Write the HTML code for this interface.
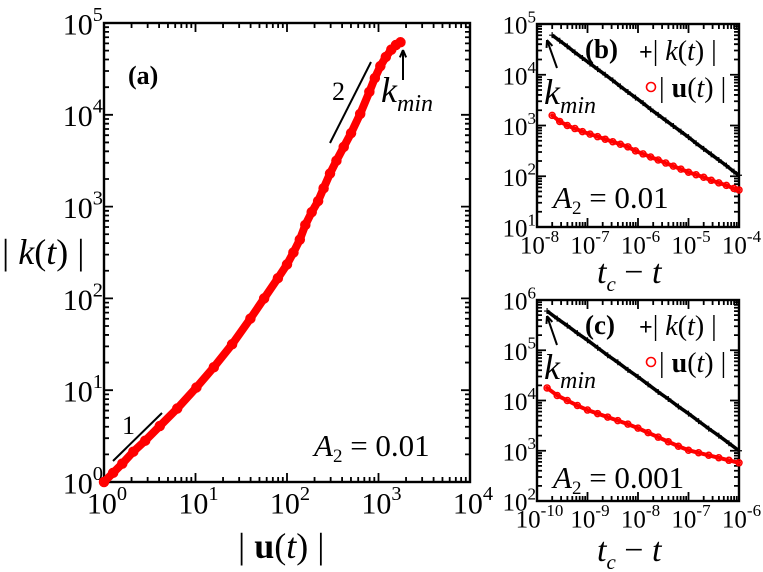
<!DOCTYPE html>
<html><head><meta charset="utf-8"><style>
body{margin:0;background:#fff;}
svg{display:block;}
svg text{font-family:"Liberation Serif","DejaVu Serif",serif;}
</style></head><body>
<svg id="fig" width="763" height="572" viewBox="0 0 763 572" xmlns="http://www.w3.org/2000/svg"></svg>
<script>
// ---- Panel (a) data: |u(t)| vs |k(t)| (log10 values) ----
const aLogU = [0,0.1,0.2,0.32,0.45,0.61,0.8,1.01,1.2,1.4,1.6,1.75,1.9,2.0,2.07,2.14,2.2,2.27,2.34,2.4,2.47,2.54,2.62,2.7,2.8,2.9,2.96,3.02,3.08,3.14,3.19,3.24];
const aLogK = [0,0.1,0.2,0.33,0.45,0.61,0.8,1.03,1.25,1.5,1.78,2.0,2.22,2.37,2.5,2.64,2.8,2.94,3.06,3.2,3.36,3.5,3.65,3.8,4.01,4.25,4.4,4.53,4.63,4.71,4.76,4.79];
const aXTicks = [0,1,2,3,4];
const aYTicks = [0,1,2,3,4,5];
// ---- Panel (b) data ----
const bLogT = [-7.7,-7.55,-7.4,-7.25,-7.1,-6.95,-6.8,-6.65,-6.5,-6.35,-6.2,-6.05,-5.9,-5.75,-5.6,-5.45,-5.3,-5.15,-5.0,-4.85,-4.7,-4.55,-4.4,-4.25,-4.1,-4.0];
const bLogK = [4.78,4.67,4.56,4.44,4.33,4.22,4.11,4.0,3.89,3.77,3.66,3.55,3.44,3.32,3.21,3.1,2.99,2.88,2.77,2.65,2.54,2.43,2.32,2.21,2.09,2.02];
const bLogU = [3.2,3.08,3.0,2.94,2.88,2.83,2.78,2.73,2.68,2.63,2.58,2.5,2.44,2.38,2.32,2.26,2.2,2.14,2.08,2.03,1.98,1.92,1.87,1.82,1.76,1.73];
const bXTicks = [-8,-7,-6,-5,-4];
const bYTicks = [1,2,3,4,5];
// ---- Panel (c) data ----
const cLogT = [-9.8,-9.6,-9.4,-9.2,-9.0,-8.8,-8.6,-8.4,-8.2,-8.0,-7.8,-7.6,-7.4,-7.2,-7.0,-6.8,-6.6,-6.4,-6.2,-6.0];
const cLogK = [5.78,5.63,5.49,5.34,5.2,5.05,4.9,4.76,4.61,4.47,4.32,4.17,4.03,3.88,3.74,3.59,3.44,3.3,3.15,3.0];
const cLogU = [4.25,4.1,4.0,3.9,3.81,3.74,3.67,3.6,3.53,3.45,3.36,3.27,3.18,3.09,3.01,2.96,2.91,2.86,2.81,2.76];
const cXTicks = [-10,-9,-8,-7,-6];
const cYTicks = [2,3,4,5,6];

const NS="http://www.w3.org/2000/svg";
const svg=document.getElementById('fig');
function mk(tag,attrs,parent){const e=document.createElementNS(NS,tag);for(const k in attrs)e.setAttribute(k,attrs[k]);(parent||svg).appendChild(e);return e;}

function panel(name,L,R,T,B,xt,yt,fs){
  const g=mk('g',{});
  
  
  const x0=xt[0],x1=xt[xt.length-1],y0=yt[0],y1=yt[yt.length-1];
  const sx=v=>L+(v-x0)/(x1-x0)*(R-L);
  const sy=v=>B-(v-y0)/(y1-y0)*(B-T);
  const fr=mk('rect',{x:L,y:T,width:R-L,height:B-T,fill:'none',stroke:'#000','stroke-width':2.4},g);
  
  
  let d='';
  for(let i=0;i<xt.length;i++){
    const x=sx(xt[i]);
    d+=`M${x},${B}v-9M${x},${T}v9`;
    if(i<xt.length-1)for(let m=2;m<10;m++){const xm=sx(xt[i]+Math.log10(m));d+=`M${xm},${B}v-5M${xm},${T}v5`;}
  }
  for(let i=0;i<yt.length;i++){
    const y=sy(yt[i]);
    d+=`M${L},${y}h9M${R},${y}h-9`;
    if(i<yt.length-1)for(let m=2;m<10;m++){const ym=sy(yt[i]+Math.log10(m));d+=`M${L},${ym}h5M${R},${ym}h-5`;}
  }
  const tk=mk('path',{d:d,stroke:'#000','stroke-width':1.8,fill:'none'},g);
  
  
  xt.forEach(v=>{
    const t=mk('text',{x:sx(v)+fs*0.1,y:B+fs*1.05,'font-size':fs,'text-anchor':'middle'},g);
    
    
    t.innerHTML=`10<tspan dy="${-fs*0.45}" font-size="${fs*0.68}">${v}</tspan>`;
  });
  yt.forEach(v=>{
    const t=mk('text',{x:L-1,y:sy(v)+fs*0.38,'font-size':fs,'text-anchor':'end'},g);
    
    
    t.innerHTML=`10<tspan dy="${-fs*0.45}" font-size="${fs*0.68}">${v}</tspan>`;
  });
  return {sx,sy,g};
}

function circles(p,xs,ys,r,name,bw){
  const pts=xs.map((x,i)=>p.sx(x)+','+p.sy(ys[i])).join(' ');
  const pl=mk('polyline',{points:pts,fill:'none',stroke:'#f00','stroke-width':bw,'stroke-linecap':'round'},p.g);
  
  
  xs.forEach((x,i)=>{
    const c=mk('circle',{cx:p.sx(x),cy:p.sy(ys[i]),r:r,fill:'none',stroke:'#f00','stroke-width':1.5},p.g);
    
    
  });
}
function pluses(p,xs,ys,name){
  const pts=xs.map((x,i)=>p.sx(x)+','+p.sy(ys[i])).join(' ');
  const pl=mk('polyline',{points:pts,fill:'none',stroke:'#000','stroke-width':3.5},p.g);
  
  
  xs.forEach((x,i)=>{
    const cx=p.sx(x),cy=p.sy(ys[i]);
    const c=mk('path',{d:`M${cx-3},${cy}h6M${cx},${cy-3}v6`,stroke:'#000','stroke-width':1.2},p.g);
    
    
  });
}
function txt(x,y,size,html,name,extra){
  const t=mk('text',Object.assign({x:x,y:y,'font-size':size},extra||{}));
  
  
  t.innerHTML=html;return t;
}
function line(x1,y1,x2,y2,name,w){
  const l=mk('line',{x1,y1,x2,y2,stroke:'#000','stroke-width':w||2});
  
  
}
function arrow(x1,y1,x2,y2,name){
  line(x1,y1,x2,y2,name,2);
  const a=Math.atan2(y2-y1,x2-x1),h=8;
  const p=mk('path',{d:`M${x2},${y2}L${x2-h*Math.cos(a-0.4)},${y2-h*Math.sin(a-0.4)}M${x2},${y2}L${x2-h*Math.cos(a+0.4)},${y2-h*Math.sin(a+0.4)}`,stroke:'#000','stroke-width':2,fill:'none'});
  
  
}

// Panel (a)
const pa=panel('panel-a',104,470,23,482,aXTicks,aYTicks,30);
circles(pa,aLogU,aLogK,4.5,'k-vs-u-series',8);
txt(128,84,26,'(a)','panel-a-label',{'font-weight':'bold'});
line(113,461,162,413,'slope-1-guide');
txt(122,434,26,'1','slope-1-label');
line(330,143,371,62,'slope-2-guide');
txt(332,100,26,'2','slope-2-label');
arrow(403,80,403,50,'kmin-arrow-a');
txt(381,102,36,'<tspan font-style="italic">k</tspan><tspan dy="9" font-size="24" font-style="italic">min</tspan>','kmin-label-a');
txt(314,456,31,'<tspan font-style="italic">A</tspan><tspan dy="6" font-size="19">2</tspan><tspan dy="-6"> = 0.01</tspan>','a2-annotation-a');
txt(2,264,36,'| <tspan font-style="italic">k</tspan>(<tspan font-style="italic">t</tspan>) |','y-axis-title-a');
txt(238,558,36,'| <tspan font-weight="bold">u</tspan>(<tspan font-style="italic">t</tspan>) |','x-axis-title-a');

// Panel (b)
const pb=panel('panel-b',537,739,24,227,bXTicks,bYTicks,25);
pluses(pb,bLogT,bLogK,'k-series-b');
circles(pb,bLogT,bLogU,3,'u-series-b',4);
txt(585,58,27,'(b)','panel-b-label',{'font-weight':'bold'});
txt(639,60,28,'<tspan font-weight="bold" font-size="24">+</tspan>| <tspan font-style="italic">k</tspan>(<tspan font-style="italic">t</tspan>) |','legend-k-b');
const lb=mk('circle',{cx:651,cy:87,r:4.5,fill:'none',stroke:'#f00','stroke-width':1.6});


txt(659,97,28,'| <tspan font-weight="bold">u</tspan>(<tspan font-style="italic">t</tspan>) |','legend-u-b');
arrow(557,68,547,40,'kmin-arrow-b');
txt(544,104,36,'<tspan font-style="italic">k</tspan><tspan dy="9" font-size="24" font-style="italic">min</tspan>','kmin-label-b');
txt(553,208,31,'<tspan font-style="italic">A</tspan><tspan dy="6" font-size="19">2</tspan><tspan dy="-6"> = 0.01</tspan>','a2-annotation-b');
txt(597,283,34,'<tspan font-style="italic">t</tspan><tspan dy="8" font-size="21" font-style="italic">c</tspan><tspan dy="-8"> − </tspan><tspan font-style="italic">t</tspan>','x-axis-title-b');

// Panel (c)
const pc=panel('panel-c',537,739,300,501,cXTicks,cYTicks,25);
pluses(pc,cLogT,cLogK,'k-series-c');
circles(pc,cLogT,cLogU,3,'u-series-c',4);
txt(585,334,27,'(c)','panel-c-label',{'font-weight':'bold'});
txt(639,335,28,'<tspan font-weight="bold" font-size="24">+</tspan>| <tspan font-style="italic">k</tspan>(<tspan font-style="italic">t</tspan>) |','legend-k-c');
const lc=mk('circle',{cx:651,cy:362,r:4.5,fill:'none',stroke:'#f00','stroke-width':1.6});


txt(659,372,28,'| <tspan font-weight="bold">u</tspan>(<tspan font-style="italic">t</tspan>) |','legend-u-c');
arrow(557,345,547,316,'kmin-arrow-c');
txt(544,379,36,'<tspan font-style="italic">k</tspan><tspan dy="9" font-size="24" font-style="italic">min</tspan>','kmin-label-c');
txt(553,488,31,'<tspan font-style="italic">A</tspan><tspan dy="6" font-size="19">2</tspan><tspan dy="-6"> = 0.001</tspan>','a2-annotation-c');
txt(597,561,34,'<tspan font-style="italic">t</tspan><tspan dy="8" font-size="21" font-style="italic">c</tspan><tspan dy="-8"> − </tspan><tspan font-style="italic">t</tspan>','x-axis-title-c');
</script>
</body></html>
